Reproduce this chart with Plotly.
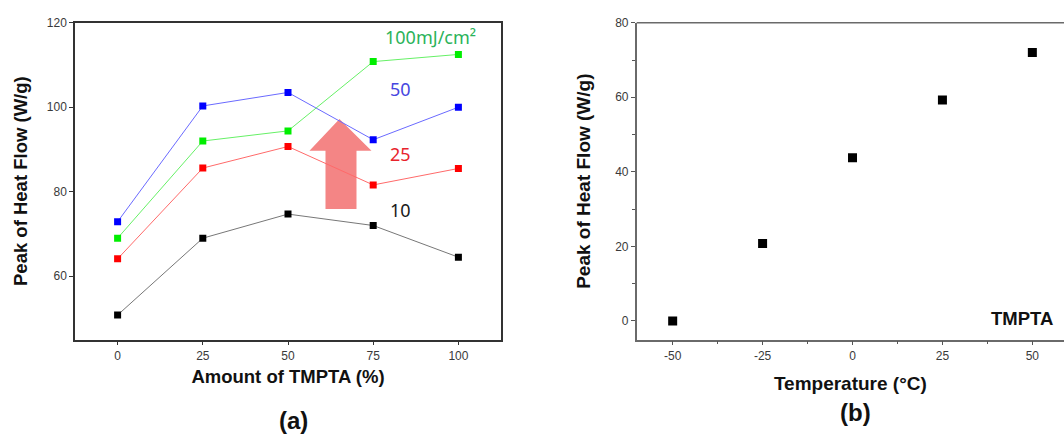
import plotly.graph_objects as go

W, H = 1064, 434

# ---- panel (a): peak heat flow vs. TMPTA content, one series per dose ----
tmpta_pct = [0, 25, 50, 75, 100]
dose_labels = ["10", "25", "50", "100mJ/cm²"]
flow_10 = [50.8, 69.0, 74.7, 72.0, 64.5]
flow_25 = [64.1, 85.6, 90.7, 81.6, 85.5]
flow_50 = [72.9, 100.3, 103.5, 92.3, 100.0]
flow_100 = [69.0, 92.0, 94.4, 110.8, 112.5]

# ---- panel (b): peak heat flow vs. temperature ----
temp_c = [-50, -25, 0, 25, 50]
flow_temp = [0.0, 20.8, 43.8, 59.3, 72.0]

tick_font = dict(family="Liberation Sans, Arial", size=12, color="#3a3a3a")
title_font_a = dict(family="Liberation Sans, Arial", size=18.5, color="#111111")
title_font_b = dict(family="Liberation Sans, Arial", size=19, color="#111111")
label_font = "Noto Sans, Open Sans, sans-serif"

def px_x(p):
    return p / W

def px_y(p):
    return 1 - p / H

fig = go.Figure()

series_a = [
    (flow_10, "#000000", "#777777", "#1a1a1a"),
    (flow_25, "#ff0000", "#ff6a6a", "#e8232c"),
    (flow_50, "#0000ff", "#6a6aff", "#4646e0"),
    (flow_100, "#00ee00", "#66f066", "#2bb35a"),
]
for vals, mcol, lcol, _ in series_a:
    fig.add_trace(go.Scatter(
        x=tmpta_pct, y=vals, mode="lines+markers",
        line=dict(color=lcol, width=1),
        marker=dict(symbol="square", size=7, color=mcol),
        xaxis="x", yaxis="y", showlegend=False, hoverinfo="skip",
    ))

fig.add_trace(go.Scatter(
    x=temp_c, y=flow_temp, mode="markers",
    marker=dict(symbol="square", size=9, color="#000000"),
    xaxis="x2", yaxis="y2", showlegend=False, hoverinfo="skip",
))

axis_common = dict(
    showgrid=False, zeroline=False, showline=True, linewidth=1.5,
    ticks="outside", ticklen=4, tickwidth=1, tickfont=tick_font,
)

fig.update_layout(
    width=W, height=H,
    margin=dict(l=0, r=0, t=0, b=0),
    paper_bgcolor="white", plot_bgcolor="white",
    xaxis=dict(
        **axis_common, domain=[px_x(75), px_x(501)], range=[-12.5, 112.5],
        tickvals=tmpta_pct, linecolor="#333333", tickcolor="#333333",
        mirror=True, anchor="y",
        title=dict(text="<b>Amount of TMPTA (%)</b>", standoff=8, font=title_font_a),
    ),
    yaxis=dict(
        **axis_common, domain=[px_y(338), px_y(16)], range=[45, 120],
        tickvals=[60, 80, 100, 120], linecolor="#333333", tickcolor="#333333",
        mirror=True, anchor="x",
        title=dict(text="<b>Peak of Heat Flow (W/g)</b>", standoff=14, font=title_font_a),
    ),
    xaxis2=dict(
        **axis_common, domain=[px_x(636.7), 1.0], range=[-60, 58.8],
        tickvals=temp_c, ticktext=[str(t) for t in temp_c],
        linecolor="#6a6a6a", tickcolor="#555555", anchor="y2",
        minor=dict(ticks="outside", ticklen=3, tickcolor="#555555",
                   tickvals=[-37.5, -12.5, 12.5, 37.5]),
        title=dict(text="<b>Temperature (°C)</b>", standoff=15, font=title_font_b),
    ),
    yaxis2=dict(
        **axis_common, domain=[px_y(338), px_y(16)], range=[-5, 80],
        tickvals=[0, 20, 40, 60, 80],
        linecolor="#6a6a6a", tickcolor="#555555", anchor="x2",
        minor=dict(ticks="outside", ticklen=3, tickcolor="#555555",
                   tickvals=[10, 30, 50, 70]),
        title=dict(text="<b>Peak of Heat Flow (W/g)</b>", standoff=20, font=title_font_b),
    ),
)

# top border of panel (b)
fig.add_shape(type="line", xref="x2 domain", yref="y2 domain",
              x0=0, x1=1, y0=1, y1=1, line=dict(color="#6a6a6a", width=1.5))

# upward arrow showing increasing dose
fig.add_shape(
    type="path", xref="x", yref="y", layer="below",
    path="M 61.0 75.9 L 70.1 75.9 L 70.1 89.7 L 74.5 89.7 L 65.1 97.2 "
         "L 56.3 89.7 L 61.0 89.7 Z",
    fillcolor="#f48585", line=dict(width=0),
)

# dose labels beside the series
label_pos = [(400, 206), (400, 149), (400, 83), (430, 31)]
for text, (lx, ly), (_, _, _, tcol) in zip(dose_labels, label_pos, series_a):
    fig.add_annotation(
        x=px_x(lx), y=px_y(ly), xref="paper", yref="paper",
        text=text, showarrow=False, xanchor="center", yanchor="middle",
        font=dict(family=label_font, size=18, color=tcol),
    )

fig.add_annotation(
    x=px_x(1022), y=px_y(317), xref="paper", yref="paper", text="<b>TMPTA</b>",
    showarrow=False, xanchor="center", yanchor="middle",
    font=dict(family="Liberation Sans, Arial", size=18.5, color="#111111"),
)

for text, (lx, ly) in [("<b>(a)</b>", (293, 420)), ("<b>(b)</b>", (855, 412))]:
    fig.add_annotation(
        x=px_x(lx), y=px_y(ly), xref="paper", yref="paper", text=text,
        showarrow=False, xanchor="center", yanchor="middle",
        font=dict(family="Liberation Sans, Arial", size=24, color="#111111"),
    )

fig.write_html("out.html")
